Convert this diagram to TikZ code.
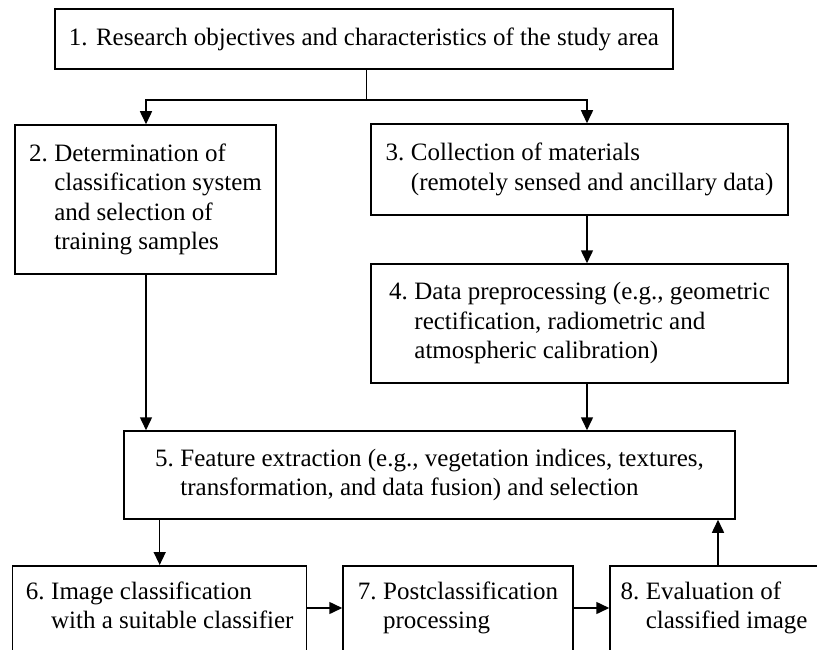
\documentclass[tikz,border=0pt]{standalone}
\usepackage{fontspec}
\setmainfont{Liberation Serif}
\usetikzlibrary{arrows.meta}
\begin{document}
\begin{tikzpicture}[x=1pt,y=-1pt,
  box/.style={draw, line width=1.5pt, rectangle, inner sep=0pt, font=\fontsize{25}{29.5}\selectfont},
  txt/.style={inner sep=0pt, font=\fontsize{25}{29.5}\selectfont},
  arr/.style={line width=1.5pt, -{Triangle[length=13pt,width=12pt]}},
  ln/.style={line width=1.5pt}]
\useasboundingbox (0,0) rectangle (817,650);
\clip (0,0) rectangle (817,650);
\node[box, minimum width=618pt, minimum height=60pt] (b1) at (364,39)
  {1. Research objectives and characteristics of the study area};
\node[box, minimum width=261pt, minimum height=149pt] (b2) at (145.5,199.5)
  {\begin{tabular}{@{}l@{\hspace{6.5pt}}l@{}}2. & Determination of\\ & classification system\\ & and selection of\\ & training samples\end{tabular}};
\node[box, minimum width=417pt, minimum height=91pt] (b3) at (579.5,169.5)
  {\begin{tabular}{@{}l@{\hspace{6.5pt}}l@{}}3. & Collection of materials\\ & (remotely sensed and ancillary data)\end{tabular}};
\node[box, minimum width=417pt, minimum height=119pt] (b4) at (579.5,323.5)
  {\begin{tabular}{@{}l@{\hspace{6.5pt}}l@{}}4. & Data preprocessing (e.g., geometric\\ & rectification, radiometric and\\ & atmospheric calibration)\end{tabular}};
\node[box, minimum width=611pt, minimum height=88pt] (b5) at (429.5,475)
  {\begin{tabular}{@{}l@{\hspace{6.5pt}}l@{}}5. & Feature extraction (e.g., vegetation indices, textures,\\ & transformation, and data fusion) and selection\end{tabular}};
\node[box, anchor=north, minimum width=294pt, minimum height=100pt] (b6) at (159.7,565) {};
\node[box, anchor=north, minimum width=230pt, minimum height=100pt] (b7) at (458,565) {};
\node[box, anchor=north, minimum width=216pt, minimum height=100pt] (b8) at (718,565) {};
\node[txt] (t6) at (159.7,608)
  {\begin{tabular}{@{}l@{\hspace{6.5pt}}l@{}}6. & Image classification\\ & with a suitable classifier\end{tabular}};
\node[txt] (t7) at (458,608)
  {\begin{tabular}{@{}l@{\hspace{6.5pt}}l@{}}7. & Postclassification\\ & processing\end{tabular}};
\node[txt] (t8) at (714,608)
  {\begin{tabular}{@{}l@{\hspace{6.5pt}}l@{}}8. & Evaluation of\\ & classified image\end{tabular}};
\coordinate (j1) at (366.7,100);
\coordinate (jL) at (146,100);
\coordinate (jR) at (587,100);
\draw[ln] (b1.south -| j1) -- (j1);
\draw[arr] (j1) -| (b2.north -| jL);
\draw[arr] (j1) -| (b3.north -| jR);
\draw[arr] (b3.south -| jR) -- (b4.north -| jR);
\draw[arr] (b2.south -| jL) -- (b5.north -| jL);
\draw[arr] (b4.south -| jR) -- (b5.north -| jR);
\draw[arr] (b5.south -| b6.north) -- (b6.north);
\draw[arr] (b6.east |- t6) -- (b7.west |- t6);
\draw[arr] (b7.east |- t7) -- (b8.west |- t7);
\draw[arr] (b8.north) -- (b5.south -| b8.north);
\end{tikzpicture}
\end{document}
